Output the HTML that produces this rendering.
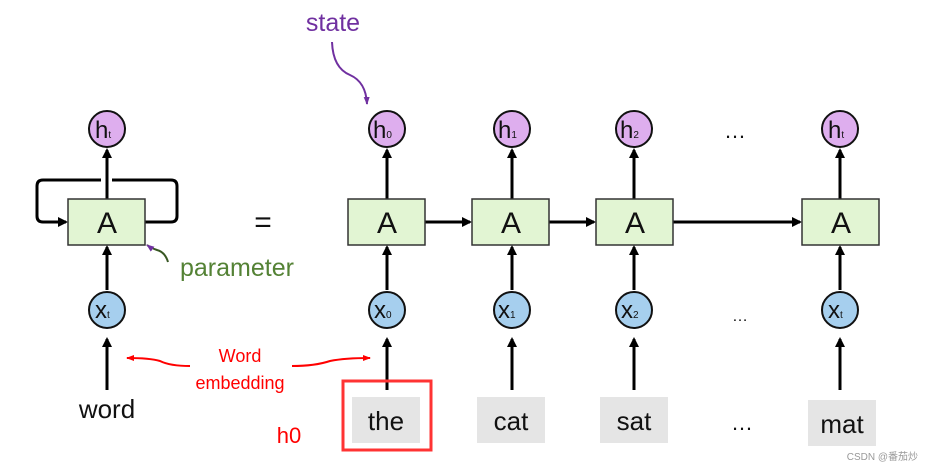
<!DOCTYPE html>
<html><head><meta charset="utf-8"><style>
html,body{margin:0;padding:0;background:#fff;}
svg{display:block;font-family:"Liberation Sans","DejaVu Sans",sans-serif;}
</style></head><body>
<svg width="926" height="466" viewBox="0 0 926 466" xmlns="http://www.w3.org/2000/svg">
<defs>
<marker id="ar" markerWidth="10" markerHeight="10" refX="8" refY="5" orient="auto" markerUnits="userSpaceOnUse"><path d="M0,0 L10,5 L0,10 z" fill="#000"/></marker>
<marker id="rr" markerWidth="8" markerHeight="8" refX="7" refY="4" orient="auto" markerUnits="userSpaceOnUse"><path d="M0,1 L8,4 L0,7 z" fill="#f00"/></marker>
<marker id="pr" markerWidth="8" markerHeight="8" refX="7" refY="4" orient="auto" markerUnits="userSpaceOnUse"><path d="M0,1 L8,4 L0,7 z" fill="#7030a0"/></marker>
</defs>
<g stroke="#000" stroke-width="3" fill="none">
<!-- left loop -->
<path d="M145,222 H171 Q177,222 177,216 V186 Q177,180 171,180 H112"/>
<path d="M101,180 H43 Q37,180 37,186 V216 Q37,222 43,222 H66" marker-end="url(#ar)"/>
</g>
<!-- columns -->
<g id="cols">
</g>
<g stroke="#000" stroke-width="3" fill="none">
<line x1="107" y1="199" x2="107" y2="150" marker-end="url(#ar)"/>
<line x1="107" y1="290" x2="107" y2="247" marker-end="url(#ar)"/>
<line x1="107" y1="390" x2="107" y2="339" marker-end="url(#ar)"/>
<line x1="387" y1="199" x2="387" y2="150" marker-end="url(#ar)"/>
<line x1="387" y1="290" x2="387" y2="247" marker-end="url(#ar)"/>
<line x1="387" y1="390" x2="387" y2="339" marker-end="url(#ar)"/>
<line x1="512" y1="199" x2="512" y2="150" marker-end="url(#ar)"/>
<line x1="512" y1="290" x2="512" y2="247" marker-end="url(#ar)"/>
<line x1="512" y1="390" x2="512" y2="339" marker-end="url(#ar)"/>
<line x1="634" y1="199" x2="634" y2="150" marker-end="url(#ar)"/>
<line x1="634" y1="290" x2="634" y2="247" marker-end="url(#ar)"/>
<line x1="634" y1="390" x2="634" y2="339" marker-end="url(#ar)"/>
<line x1="840" y1="199" x2="840" y2="150" marker-end="url(#ar)"/>
<line x1="840" y1="290" x2="840" y2="247" marker-end="url(#ar)"/>
<line x1="840" y1="390" x2="840" y2="339" marker-end="url(#ar)"/>
<line x1="425" y1="222" x2="470" y2="222" marker-end="url(#ar)"/>
<line x1="549" y1="222" x2="594" y2="222" marker-end="url(#ar)"/>
<line x1="673" y1="222" x2="800" y2="222" marker-end="url(#ar)"/>
</g>
<g stroke="#333" stroke-width="1.5" fill="#e2f5d3">
<rect x="68" y="199" width="77" height="46"/>
<rect x="348" y="199" width="77" height="46"/>
<rect x="472" y="199" width="77" height="46"/>
<rect x="596" y="199" width="77" height="46"/>
<rect x="802" y="199" width="77" height="46"/>
</g>
<g font-size="30" text-anchor="middle" fill="#111">
<text x="107" y="233">A</text><text x="387" y="233">A</text><text x="511" y="233">A</text><text x="635" y="233">A</text><text x="841" y="233">A</text>
</g>
<g stroke="#111" stroke-width="2">
<circle cx="107" cy="129" r="18" fill="#deaeee"/>
<circle cx="387" cy="129" r="18" fill="#deaeee"/>
<circle cx="512" cy="129" r="18" fill="#deaeee"/>
<circle cx="634" cy="129" r="18" fill="#deaeee"/>
<circle cx="840" cy="129" r="18" fill="#deaeee"/>
<circle cx="107" cy="310" r="18" fill="#a6cfee"/>
<circle cx="387" cy="310" r="18" fill="#a6cfee"/>
<circle cx="512" cy="310" r="18" fill="#a6cfee"/>
<circle cx="634" cy="310" r="18" fill="#a6cfee"/>
<circle cx="840" cy="310" r="18" fill="#a6cfee"/>
</g>
<g fill="#111" font-size="24">
<text x="95" y="138">h<tspan font-size="10">t</tspan></text>
<text x="373" y="138">h<tspan font-size="10">0</tspan></text>
<text x="498" y="138">h<tspan font-size="10">1</tspan></text>
<text x="620" y="138">h<tspan font-size="10">2</tspan></text>
<text x="828" y="138">h<tspan font-size="10">t</tspan></text>
<text x="95" y="318">x<tspan font-size="10">t</tspan></text>
<text x="374" y="318">x<tspan font-size="10">0</tspan></text>
<text x="498" y="318">x<tspan font-size="10">1</tspan></text>
<text x="621" y="318">x<tspan font-size="10">2</tspan></text>
<text x="828" y="318">x<tspan font-size="10">t</tspan></text>
</g>
<g fill="#e5e5e5">
<rect x="352" y="397" width="68" height="46"/>
<rect x="477" y="397" width="68" height="46"/>
<rect x="600" y="397" width="68" height="46"/>
<rect x="808" y="400" width="68" height="46"/>
</g>
<rect x="343" y="381" width="88" height="69" fill="none" stroke="#f33" stroke-width="3"/>
<g font-size="26" fill="#111" text-anchor="middle">
<text x="386" y="430">the</text><text x="511" y="430">cat</text><text x="634" y="430">sat</text><text x="842" y="433">mat</text>
<text x="107" y="418">word</text>
<text x="263" y="232" font-size="30">=</text>
<text x="735" y="138" font-size="22">…</text>
<text x="740" y="321" font-size="16">…</text>
<text x="742" y="430" font-size="22">…</text>
</g>
<text x="180" y="276" font-size="25" fill="#548235">parameter</text>
<path d="M168,262 Q165,252 157,250 Q151,248 147,245" stroke="#385723" stroke-width="2" fill="none" marker-end="url(#pr)" style="stroke:#385723"/>
<text x="333" y="31" font-size="25" fill="#7030a0" text-anchor="middle">state</text>
<path d="M332,42 Q333,68 350,75 Q366,82 367,104" stroke="#7030a0" stroke-width="2" fill="none" marker-end="url(#pr)"/>
<g fill="#f00" font-size="18" text-anchor="middle">
<text x="240" y="362">Word</text>
<text x="240" y="389">embedding</text>
<text x="289" y="443" font-size="22">h0</text>
</g>
<path d="M190,366 Q170,366 160,361 Q150,358 127,358" stroke="#f00" stroke-width="2" fill="none" marker-end="url(#rr)"/>
<path d="M292,366 Q315,366 330,361 Q345,358 370,358" stroke="#f00" stroke-width="2" fill="none" marker-end="url(#rr)"/>
<text x="918" y="460" font-size="10" fill="#999" text-anchor="end" font-family="'Liberation Sans','Noto Sans CJK SC',sans-serif">CSDN @番茄炒</text>
</svg>
</body></html>
